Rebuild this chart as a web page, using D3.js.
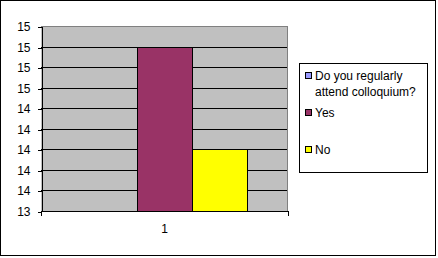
<!DOCTYPE html>
<html lang="en">
<head>
<meta charset="UTF-8">
<title>Colloquium</title>
<script src="https://cdnjs.cloudflare.com/ajax/libs/d3/7.8.5/d3.min.js"></script>
<style>
    body { margin: 0; background: #fff; }
    svg { display: block; font-family: Arial, "Liberation Sans", sans-serif; font-size: 12px; }
    .frame { fill: #fff; stroke: #000; }
    .plot { fill: #c0c0c0; }
    .grid { stroke: #000; shape-rendering: crispEdges; }
    .border { stroke: #808080; fill: none; shape-rendering: crispEdges; }
    .bar { stroke: #000; shape-rendering: crispEdges; }
    .axis path, .axis line { stroke: #000; shape-rendering: crispEdges; }
    .axis text { font-family: Arial, "Liberation Sans", sans-serif; font-size: 12px; fill: #000; }
    .legend-box { fill: #fff; stroke: #000; shape-rendering: crispEdges; }
</style>
</head>
<body>
<div class="chart"></div>
<script>
    // data
    const categories = ["1"];
    const seriesNames = ["Do you regularly attend colloquium?", "Yes", "No"];
    const seriesValues = [0, 15, 14]; // first series sits below the axis minimum, so no bar shows
    const seriesColors = ["#9999ff", "#993366", "#ffff00"];
    const legendLines = [["Do you regularly", "attend colloquium?"], ["Yes"], ["No"]];
    const yTicks = [13.4, 13.6, 13.8, 14.0, 14.2, 14.4, 14.6, 14.8, 15.0, 15.2];

    const width = 438, height = 258;
    const plot = { left: 41, right: 288, top: 26, bottom: 211 };

    const svg = d3.select('.chart')
        .append('svg')
        .attr('width', width)
        .attr('height', height);

    svg.append('rect')
        .attr('class', 'frame')
        .attr('x', 0.5).attr('y', 0.5)
        .attr('width', 435).attr('height', 255);

    const y = d3.scaleLinear()
        .domain([yTicks[0], yTicks[yTicks.length - 1]])
        .range([plot.bottom, plot.top])
        .interpolate(d3.interpolateRound);

    const x0 = d3.scaleBand()
        .domain(categories)
        .range([plot.left, plot.right])
        .paddingInner(1 / 3)
        .paddingOuter(1 / 6);

    const x1 = d3.scaleBand()
        .domain(seriesNames)
        .range([0, x0.bandwidth()]);

    // plot area
    svg.append('rect')
        .attr('class', 'plot')
        .attr('x', plot.left).attr('y', plot.top)
        .attr('width', plot.right - plot.left)
        .attr('height', plot.bottom - plot.top);

    // gridlines (not on the top edge or the axis)
    svg.selectAll('.grid')
        .data(yTicks.slice(1, -1))
        .enter()
        .append('line')
        .attr('class', 'grid')
        .attr('x1', plot.left).attr('x2', plot.right)
        .attr('y1', d => y(d) + 0.5).attr('y2', d => y(d) + 0.5);

    // gray top and right edge of plot area
    svg.append('path')
        .attr('class', 'border')
        .attr('d', `M${plot.left},${plot.top + 0.5}H${plot.right - 0.5}V${plot.bottom}`);

    // bars
    const rows = [];
    categories.forEach(c => {
        seriesNames.forEach((s, i) => {
            rows.push({ cat: c, name: s, value: seriesValues[i], color: seriesColors[i] });
        });
    });

    svg.selectAll('.bar')
        .data(rows.filter(d => d.value > y.domain()[0]))
        .enter()
        .append('rect')
        .attr('class', 'bar')
        .attr('x', d => Math.round(x0(d.cat) + x1(d.name)) + 0.5)
        .attr('y', d => y(d.value) + 0.5)
        .attr('width', x1.bandwidth())
        .attr('height', d => plot.bottom - y(d.value))
        .attr('fill', d => d.color);

    // y axis
    svg.append('g')
        .attr('class', 'axis')
        .attr('transform', `translate(${plot.left + 0.5},0.5)`)
        .call(d3.axisLeft(y)
            .tickValues(yTicks)
            .tickFormat(d3.format('.0f'))
            .tickSize(4)
            .tickPadding(7)
            .tickSizeOuter(0));

    // x axis: line along bottom, ticks at the category edges, label centred
    const xAxis = svg.append('g').attr('class', 'axis');
    xAxis.append('line')
        .attr('x1', plot.left).attr('x2', plot.right + 1)
        .attr('y1', plot.bottom + 0.5).attr('y2', plot.bottom + 0.5);
    xAxis.selectAll('.xtick')
        .data(x0.range())
        .enter()
        .append('line')
        .attr('x1', d => d + 0.5).attr('x2', d => d + 0.5)
        .attr('y1', plot.bottom).attr('y2', plot.bottom + 5);
    xAxis.selectAll('.xlabel')
        .data(categories)
        .enter()
        .append('text')
        .attr('x', d => x0(d) + x0.bandwidth() / 2)
        .attr('y', plot.bottom + 22)
        .attr('text-anchor', 'middle')
        .text(d => d);

    // legend
    const legend = svg.append('g').attr('transform', 'translate(299,63)');
    legend.append('rect')
        .attr('class', 'legend-box')
        .attr('x', 0.5).attr('y', 0.5)
        .attr('width', 128).attr('height', 109);

    const item = legend.selectAll('.item')
        .data(seriesNames)
        .enter()
        .append('g')
        .attr('transform', (d, i) => `translate(0,${9 + i * 37})`);

    item.append('rect')
        .attr('class', 'bar')
        .attr('x', 6.5).attr('y', 0.5)
        .attr('width', 6).attr('height', 6)
        .attr('fill', (d, i) => seriesColors[i]);

    item.append('text')
        .attr('x', 16)
        .attr('y', 8)
        .selectAll('tspan')
        .data((d, i) => legendLines[i])
        .enter()
        .append('tspan')
        .attr('x', 16)
        .attr('dy', (d, i) => i ? 15.5 : 0)
        .text(d => d);
</script>
</body>
</html>
